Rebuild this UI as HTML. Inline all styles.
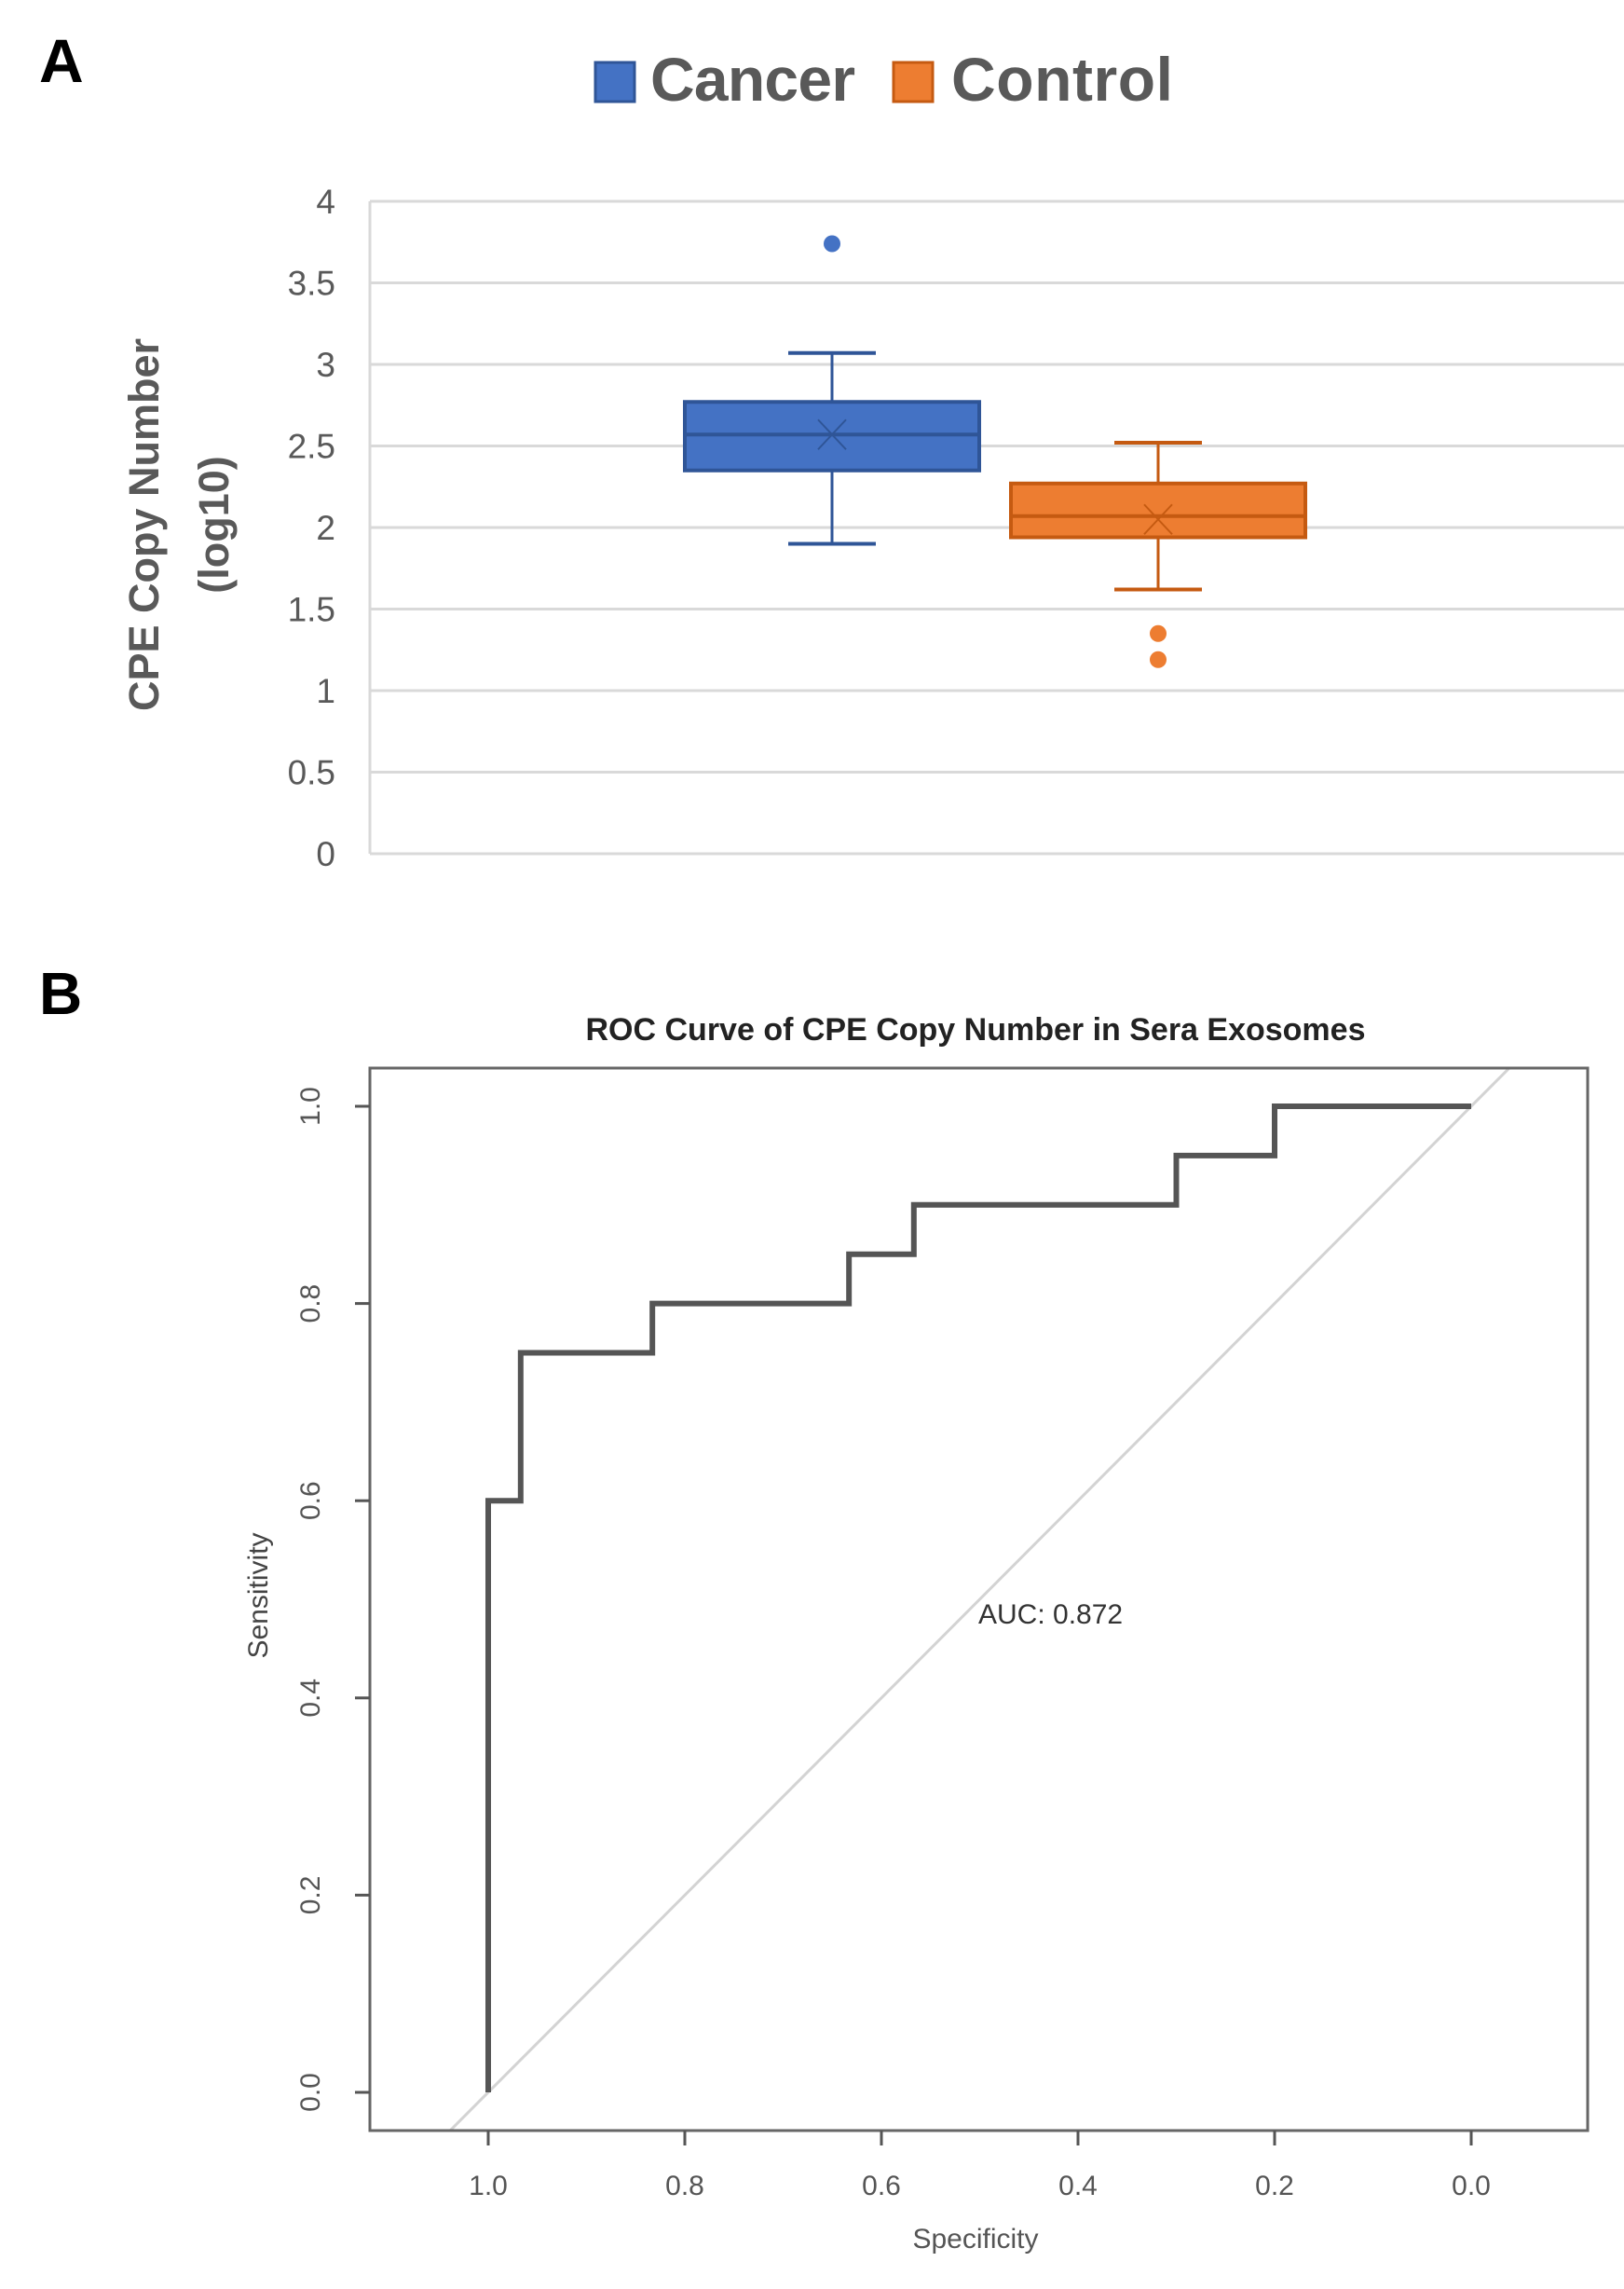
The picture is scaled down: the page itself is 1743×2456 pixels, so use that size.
<!DOCTYPE html>
<html><head><meta charset="utf-8"><style>
html,body{margin:0;padding:0;background:#fff;}
svg{display:block;font-family:"Liberation Sans",sans-serif;}
</style></head><body>
<svg id="fig" width="1743" height="2456" viewBox="0 0 1743 2456">
<text x="42" y="88" font-size="66" font-weight="bold" fill="#000">A</text>
<g>
<rect x="639" y="67" width="42" height="42" fill="#4472c4" stroke="#2f5597" stroke-width="3"/>
<text x="698" y="108" font-size="66" font-weight="bold" fill="#595959" textLength="220">Cancer</text>
<rect x="959" y="67" width="42" height="42" fill="#ed7d31" stroke="#c55a11" stroke-width="3"/>
<text x="1021" y="108" font-size="66" font-weight="bold" fill="#595959" textLength="238">Control</text>
</g>
<g id="boxplot"></g>
<text x="42" y="1088" font-size="64" font-weight="bold" fill="#000">B</text>
<text x="1047" y="1116" font-size="34" font-weight="bold" fill="#222" text-anchor="middle">ROC Curve of CPE Copy Number in Sera Exosomes</text>
<g id="roc"></g>
</svg>
<script>
// Box plot data
const boxGroups = ['Cancer','Control'];
const boxColors = ['#4472c4','#ed7d31'];
const boxStroke = ['#2f5597','#c55a11'];
const boxQ1 = [2.35, 1.94];
const boxMedian = [2.57, 2.07];
const boxQ3 = [2.77, 2.27];
const boxMean = [2.57, 2.05];
const boxWhiskerLow = [1.90, 1.62];
const boxWhiskerHigh = [3.07, 2.52];
const boxOutliers = [[3.74],[1.35,1.19]];
const yTicksA = [0,0.5,1,1.5,2,2.5,3,3.5,4];
// ROC data
const rocSpec = [1,1,0.967,0.967,0.833,0.833,0.633,0.633,0.567,0.567,0.3,0.3,0.2,0.2,0];
const rocSens = [0,0.6,0.6,0.75,0.75,0.8,0.8,0.85,0.85,0.9,0.9,0.95,0.95,1,1];
const rocXTicks = [1.0,0.8,0.6,0.4,0.2,0.0];
const rocYTicks = [0.0,0.2,0.4,0.6,0.8,1.0];
const aucLabel = 'AUC: 0.872';

const NS='http://www.w3.org/2000/svg';
function mk(tag,attrs,parent){const e=document.createElementNS(NS,tag);for(const k in attrs)e.setAttribute(k,attrs[k]);parent.appendChild(e);return e;}

// Panel A
const bp=document.getElementById('boxplot');
const yA=v=>916-v*175;
const plotL=397, plotR=1743;
yTicksA.forEach(t=>{
  const g=mk('line',{x1:plotL,x2:plotR,y1:yA(t),y2:yA(t),stroke:'#d9d9d9','stroke-width':3},bp);
  
  
  const tx=mk('text',{x:360,y:yA(t)+13,'font-size':37,fill:'#595959','text-anchor':'end'},bp);
  tx.textContent=String(t);
  
  
});
const ax=mk('line',{x1:plotL,x2:plotL,y1:yA(4),y2:yA(0),stroke:'#d9d9d9','stroke-width':3},bp);


const yt=mk('text',{transform:'translate(170,563) rotate(-90)','font-size':45,'font-weight':'bold',fill:'#595959','text-anchor':'middle'},bp);
yt.textContent='CPE Copy Number';


const yt2=mk('text',{transform:'translate(245,563) rotate(-90)','font-size':45,'font-weight':'bold',fill:'#595959','text-anchor':'middle'},bp);
yt2.textContent='(log10)';


const centers=[893,1243], bw=316, cap=94;
boxGroups.forEach((g,i)=>{
  const c=centers[i], s=boxStroke[i];
  const grp=mk('g',{},bp);
  
  
  mk('line',{x1:c,x2:c,y1:yA(boxWhiskerHigh[i]),y2:yA(boxQ3[i]),stroke:s,'stroke-width':3},grp);
  mk('line',{x1:c,x2:c,y1:yA(boxQ1[i]),y2:yA(boxWhiskerLow[i]),stroke:s,'stroke-width':3},grp);
  mk('line',{x1:c-cap/2,x2:c+cap/2,y1:yA(boxWhiskerHigh[i]),y2:yA(boxWhiskerHigh[i]),stroke:s,'stroke-width':4},grp);
  mk('line',{x1:c-cap/2,x2:c+cap/2,y1:yA(boxWhiskerLow[i]),y2:yA(boxWhiskerLow[i]),stroke:s,'stroke-width':4},grp);
  mk('rect',{x:c-bw/2,y:yA(boxQ3[i]),width:bw,height:yA(boxQ1[i])-yA(boxQ3[i]),fill:boxColors[i],stroke:s,'stroke-width':4},grp);
  mk('line',{x1:c-bw/2,x2:c+bw/2,y1:yA(boxMedian[i]),y2:yA(boxMedian[i]),stroke:s,'stroke-width':4},grp);
  const m=yA(boxMean[i]);
  mk('path',{d:`M${c-15} ${m-16}L${c+15} ${m+16}M${c+15} ${m-16}L${c-15} ${m+16}`,stroke:s,'stroke-width':2,fill:'none'},grp);
  boxOutliers[i].forEach(o=>{
    const d=mk('circle',{cx:c,cy:yA(o),r:9,fill:boxColors[i]},grp);
    
    
  });
});

// Panel B
const roc=document.getElementById('roc');
const xB=v=>1579-(1-v)*0+ (v-0)*0 - v*1055 + 0; // spec 1 -> 524, 0 -> 1579
const yB=v=>2245-v*1058;
const bl=397,br=1704,bt=1146,bb=2286;
const cp=mk('clipPath',{id:'rocclip'},roc);mk('rect',{x:bl,y:bt,width:br-bl,height:bb-bt},cp);
const diag=mk('line',{x1:xB(1.04),y1:yB(-0.04),x2:xB(-0.07),y2:yB(1.07),stroke:'#d3d3d3','stroke-width':3,'clip-path':'url(#rocclip)'},roc);


const fr=mk('rect',{x:bl,y:bt,width:br-bl,height:bb-bt,fill:'none',stroke:'#666','stroke-width':3},roc);


rocXTicks.forEach(t=>{
  mk('line',{x1:xB(t),x2:xB(t),y1:bb,y2:bb+16,stroke:'#555','stroke-width':3},roc);
  const tx=mk('text',{x:xB(t),y:2355,'font-size':30,fill:'#555','text-anchor':'middle'},roc);
  tx.textContent=t.toFixed(1);
  
  
});
rocYTicks.forEach(t=>{
  mk('line',{x1:bl,x2:bl-16,y1:yB(t),y2:yB(t),stroke:'#555','stroke-width':3},roc);
  const tx=mk('text',{transform:`translate(343,${yB(t)}) rotate(-90)`,'font-size':30,fill:'#555','text-anchor':'middle'},roc);
  tx.textContent=t.toFixed(1);
  
  
});
const xl=mk('text',{x:1047,y:2412,'font-size':30,fill:'#555','text-anchor':'middle'},roc);
xl.textContent='Specificity';


const yl=mk('text',{transform:'translate(287,1712) rotate(-90)','font-size':30,fill:'#444','text-anchor':'middle'},roc);
yl.textContent='Sensitivity';


let d='';rocSpec.forEach((s,i)=>{d+=(i?'L':'M')+xB(s)+' '+yB(rocSens[i]);});
const curve=mk('path',{d:d,fill:'none',stroke:'#555','stroke-width':6},roc);


const auc=mk('text',{x:1050,y:1742,'font-size':30,fill:'#333'},roc);
auc.textContent=aucLabel;


</script>
</body></html>
